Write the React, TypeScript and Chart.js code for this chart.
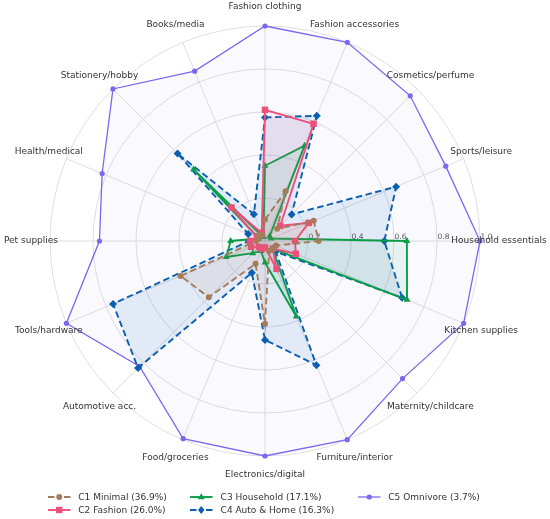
import React, { useEffect, useRef } from 'react';
import { Chart, registerables } from 'chart.js';

Chart.register(...registerables);

const categories = [
  'Fashion clothing', 'Fashion accessories', 'Cosmetics/perfume', 'Sports/leisure',
  'Household essentials', 'Kitchen supplies', 'Maternity/childcare', 'Furniture/interior',
  'Electronics/digital', 'Food/groceries', 'Automotive acc.', 'Tools/hardware',
  'Pet supplies', 'Health/medical', 'Stationery/hobby', 'Books/media',
];

const tickValues = [0.2, 0.4, 0.6, 0.8, 1.0];
const tickLabels = ['0.2', '0.4', '0.6', '0.8', '1.0'];

const seriesNames = [
  'C1 Minimal (36.9%)',
  'C2 Fashion (26.0%)',
  'C3 Household (17.1%)',
  'C4 Auto & Home (16.3%)',
  'C5 Omnivore (3.7%)',
];

const c1Minimal = [0.10, 0.25, 0.08, 0.245, 0.25, 0.056, 0.05, 0.05, 0.385, 0.115, 0.37, 0.425, 0.04, 0.03, 0.04, 0.03];
const c2Fashion = [0.61, 0.59, 0.10, 0.22, 0.14, 0.155, 0.05, 0.14, 0.03, 0.04, 0.04, 0.07, 0.07, 0.04, 0.22, 0.04];
const c3Household = [0.35, 0.48, 0.03, 0.03, 0.66, 0.715, 0.05, 0.38, 0.10, 0.05, 0.08, 0.195, 0.16, 0.03, 0.47, 0.02];
const c4AutoHome = [0.575, 0.63, 0.175, 0.66, 0.555, 0.69, 0.07, 0.625, 0.46, 0.16, 0.835, 0.765, 0.075, 0.085, 0.575, 0.135];
const c5Omnivore = [1.0, 1.0, 0.955, 0.91, 1.0, 1.0, 0.905, 1.0, 1.0, 0.995, 0.825, 1.0, 0.77, 0.82, 1.0, 0.855];

const seriesData = [c1Minimal, c2Fashion, c3Household, c4AutoHome, c5Omnivore];
const seriesColors = ['#a57c5b', '#ec4f7a', '#0a9d47', '#0b5fb0', '#7b68ee'];
const seriesFillAlpha = [0.1, 0.08, 0.08, 0.1, 0.04];
const seriesDashed = [true, false, false, true, false];
const seriesPointStyle = ['circle', 'rect', 'triangle', 'rectRot', 'circle'];
const seriesPointRadius = [3, 4.6, 4, 4, 2.6];
const seriesLineWidth = [1.9, 1.9, 1.9, 1.9, 1.3];

function hexToRgba(hex: string, a: number) {
  const n = parseInt(hex.slice(1), 16);
  return `rgba(${(n >> 16) & 255},${(n >> 8) & 255},${n & 255},${a})`;
}

const FONT = '"DejaVu Sans", sans-serif';

const labelPlugin = {
  id: 'customRadarLabels',
  beforeDatasetsDraw(chart: any) {
    const scale = chart.scales.r;
    const ctx = chart.ctx;
    ctx.save();
    ctx.font = `7.5px ${FONT}`;
    ctx.fillStyle = '#555555';
    ctx.textAlign = 'center';
    ctx.textBaseline = 'middle';
    tickValues.forEach((v, i) => {
      const d = scale.getDistanceFromCenterForValue(v);
      const p = scale.getPointPosition(4, d + 6.5);
      ctx.fillText(tickLabels[i], p.x, p.y - 3.5);
    });
    ctx.restore();
  },
  afterDraw(chart: any) {
    const scale = chart.scales.r;
    const ctx = chart.ctx;
    ctx.save();
    ctx.font = `9px ${FONT}`;
    ctx.fillStyle = '#333333';
    ctx.textAlign = 'center';
    ctx.textBaseline = 'middle';
    categories.forEach((c, i) => {
      const p = scale.getPointPosition(i, scale.drawingArea + 19);
      ctx.fillText(c, p.x, p.y);
    });
    ctx.restore();
  },
};

function LegendMarker({ idx }: { idx: number }) {
  const color = seriesColors[idx];
  const dashed = seriesDashed[idx];
  const style = seriesPointStyle[idx];
  const cx = 11.25;
  const cy = 5;
  let marker: any = null;
  if (style === 'circle') {
    marker = <circle cx={cx} cy={cy} r={idx === 4 ? 2.6 : 3} fill={color} />;
  } else if (style === 'rect') {
    marker = <rect x={cx - 3.2} y={cy - 3.2} width={6.4} height={6.4} fill={color} />;
  } else if (style === 'triangle') {
    marker = <polygon points={`${cx},${cy - 3.8} ${cx + 3.4},${cy + 2.2} ${cx - 3.4},${cy + 2.2}`} fill={color} />;
  } else {
    marker = <polygon points={`${cx},${cy - 4} ${cx + 3.2},${cy} ${cx},${cy + 4} ${cx - 3.2},${cy}`} fill={color} />;
  }
  return (
    <svg width={23} height={10} style={{ display: 'block', flex: '0 0 auto' }}>
      <line x1={0} y1={cy} x2={22.5} y2={cy} stroke={color} strokeWidth={seriesLineWidth[idx]}
        strokeDasharray={dashed ? '6.5 9.5' : undefined} />
      {marker}
    </svg>
  );
}

const legendPos = [
  { left: 47.7, top: 497.3 },
  { left: 47.7, top: 510 },
  { left: 190, top: 497.3 },
  { left: 190, top: 510 },
  { left: 357.7, top: 497.3 },
];

export default function App() {
  const canvasRef = useRef<HTMLCanvasElement | null>(null);

  useEffect(() => {
    if (!canvasRef.current) return;
    const datasets = seriesData.map((d, i) => ({
      label: seriesNames[i],
      data: d,
      borderColor: seriesColors[i],
      backgroundColor: hexToRgba(seriesColors[i], seriesFillAlpha[i]),
      fill: true,
      borderWidth: seriesLineWidth[i],
      borderDash: seriesDashed[i] ? [6.5, 3.5] : [],
      pointStyle: seriesPointStyle[i],
      pointRadius: seriesPointRadius[i],
      pointBackgroundColor: seriesColors[i],
      pointBorderColor: seriesColors[i],
      pointBorderWidth: 0,
      tension: 0,
    }));
    const chart = new Chart(canvasRef.current, {
      type: 'radar',
      data: { labels: categories, datasets },
      options: {
        responsive: false,
        animation: false,
        devicePixelRatio: 1,
        layout: { padding: { left: 50, top: 26, right: 70, bottom: 63 } },
        plugins: { legend: { display: false }, tooltip: { enabled: false } },
        scales: {
          r: {
            min: 0,
            max: 1,
            ticks: { stepSize: 0.2, display: false },
            grid: { circular: true, color: '#d6d6d6', lineWidth: 0.8 },
            angleLines: { display: true, color: '#d6d6d6', lineWidth: 0.8 },
            pointLabels: { display: false },
          },
        },
      },
      plugins: [labelPlugin],
    } as any);
    return () => chart.destroy();
  }, []);

  return (
    <div style={{ position: 'absolute', left: 0, top: 0, width: 550, height: 519, background: '#ffffff', overflow: 'hidden' }}>
      <canvas ref={canvasRef} width={550} height={519} style={{ position: 'absolute', left: 0, top: 0, width: 550, height: 519 }} />
      {legendPos.map((p, i) => (
        <div key={i} style={{ position: 'absolute', left: p.left, top: p.top - 6, height: 12, display: 'flex', alignItems: 'center', whiteSpace: 'nowrap' }}>
          <LegendMarker idx={i} />
          <span style={{ marginLeft: 7.6, fontFamily: FONT, fontSize: 9, color: '#333333', lineHeight: '12px' }}>{seriesNames[i]}</span>
        </div>
      ))}
    </div>
  );
}
